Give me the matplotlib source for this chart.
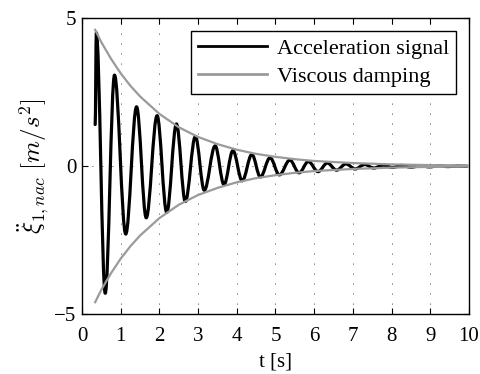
import numpy as np
import matplotlib.pyplot as plt
from matplotlib.path import Path
from matplotlib.patches import PathPatch
from matplotlib.lines import Line2D

plt.rcParams['font.family'] = ['Liberation Serif', 'DejaVu Serif']
plt.rcParams['mathtext.fontset'] = 'cm'

# peaks / troughs of the acceleration signal
t_ext = [0.34, 0.37, 0.60, 0.84, 1.13, 1.41, 1.66, 1.94, 2.19, 2.44, 2.67,
         2.93, 3.16, 3.44, 3.67, 3.90, 4.14, 4.39, 4.61, 4.86, 5.10, 5.37,
         5.61, 5.85, 6.10, 6.34, 6.58, 6.82, 7.06, 7.30, 7.54, 7.78, 8.02,
         8.26, 8.50, 8.74, 8.98, 9.22, 9.46, 9.70, 9.94]
a_ext = [1.4, 4.5, -4.3, 3.07, -2.3, 2.0, -1.75, 1.7, -1.57, 1.42, -1.2,
         1.0, -0.82, 0.68, -0.63, 0.52, -0.5, 0.39, -0.37, 0.28, -0.3, 0.2,
         -0.23, 0.15, -0.19, 0.1, -0.14, 0.07, -0.1, 0.05, -0.07, 0.03, -0.05,
         0.02, -0.04, 0.01, -0.03, 0.01, -0.02, 0.0, -0.01]

# viscous damping envelope (upper branch, lower one is mirrored)
t_env = [0.34, 0.5, 0.75, 1.0, 1.25, 1.5, 2.0, 2.5, 3.0, 3.5, 4.0, 4.5,
         5.0, 5.5, 6.0, 7.0, 8.0, 9.0, 10.0]
a_env = [4.6, 4.18, 3.62, 3.13, 2.71, 2.35, 1.76, 1.31, 0.98, 0.74, 0.55,
         0.41, 0.31, 0.23, 0.17, 0.1, 0.054, 0.03, 0.017]

xticks = list(range(0, 11))
yticks = [-5, 0, 5]

fig = plt.figure(figsize=(4.81, 3.74), dpi=100)
ax = fig.add_axes([0.1705, 0.1604, 0.8045, 0.7915])

# smooth line through the extrema (bezier with flat tangent at each peak)
k = 0.36
verts = [(t_ext[0], a_ext[0])]
codes = [Path.MOVETO]
for i in range(len(t_ext) - 1):
    dt = t_ext[i + 1] - t_ext[i]
    verts += [(t_ext[i] + k * dt, a_ext[i]),
              (t_ext[i + 1] - k * dt, a_ext[i + 1]),
              (t_ext[i + 1], a_ext[i + 1])]
    codes += [Path.CURVE4] * 3
ax.add_patch(PathPatch(Path(verts, codes), fill=False, ec='k', lw=2.3,
                       capstyle='round', joinstyle='round', zorder=3))

env = np.array(a_env)
ax.plot(t_env, env, color='#9a9a9a', lw=1.6, zorder=4)
ax.plot(t_env, -env, color='#9a9a9a', lw=1.6, zorder=4)

ax.set_xlim(0, 10)
ax.set_ylim(-5, 5)
ax.set_xticks(xticks)
ax.set_yticks(yticks)
ax.grid(True, color='k', lw=0.6, linestyle=(0, (1, 11)))
ax.tick_params(direction='in', top=True, right=True, length=4, width=0.8,
               labelsize=15)
ax.tick_params(axis='x', pad=9)
ax.tick_params(axis='y', pad=4)
for s in ax.spines.values():
    s.set_linewidth(1.0)

ax.set_xlabel('t [s]', fontsize=15, labelpad=5)
ax.set_ylabel(r'$\ddot{\xi}_{1,nac}\ [m/s^2]$', fontsize=18, labelpad=2)

handles = [Line2D([], [], color='k', lw=2.0),
           Line2D([], [], color='#9a9a9a', lw=2.0)]
leg = ax.legend(handles, ['Acceleration signal', 'Viscous damping'],
                loc='upper right', fontsize=16, fancybox=False,
                edgecolor='k', framealpha=1, handlelength=3.1,
                handletextpad=0.45, labelspacing=0.35, borderpad=0.3,
                borderaxespad=0.6)
leg.get_frame().set_linewidth(1.0)

fig.savefig('out.png', dpi=100)
